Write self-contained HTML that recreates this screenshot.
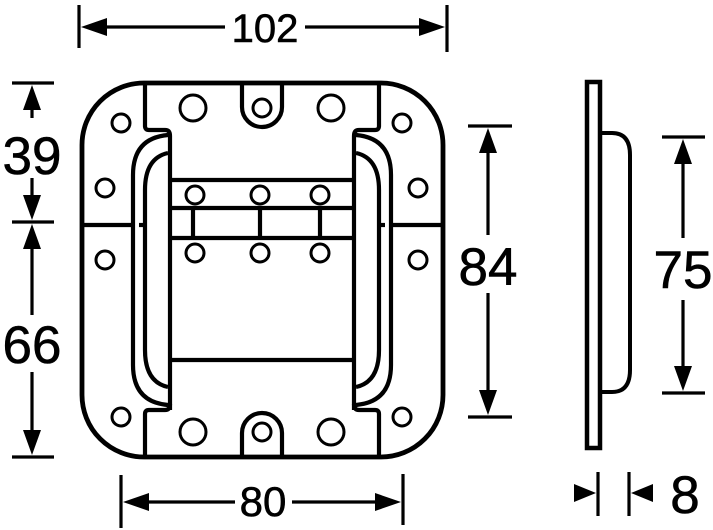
<!DOCTYPE html>
<html><head><meta charset="utf-8"><style>
html,body{margin:0;padding:0;background:#fff;width:713px;height:530px;overflow:hidden}
svg{display:block}
text{font-family:"Liberation Sans",Arial,sans-serif;fill:#000;stroke:#000;stroke-width:0.6}
</style></head><body>
<svg width="713" height="530" viewBox="0 0 713 530" xmlns="http://www.w3.org/2000/svg">
<g fill="none" stroke="#000" stroke-width="4.2" stroke-linejoin="round">
  <rect x="82" y="83" width="361" height="374" rx="62" ry="62" stroke-width="4.8"/>
  <path d="M145 83 V126 Q145 130 149 130 H165 Q170 130 170 136 V410"/>
  <path d="M379 83 V126 Q379 130 375 130 H359 Q354 130 354 136 V410"/>
  <path d="M145 457 V414 Q145 410 149 410 H165 Q170 410 170 404"/>
  <path d="M379 457 V414 Q379 410 375 410 H359 Q354 410 354 404"/>
  <line x1="170" y1="180" x2="354" y2="180"/>
  <line x1="170" y1="360" x2="354" y2="360"/>
  <line x1="170" y1="208" x2="354" y2="208"/>
  <line x1="170" y1="238" x2="354" y2="238"/>
  <line x1="193" y1="208" x2="193" y2="238"/>
  <line x1="260" y1="208" x2="260" y2="238"/>
  <line x1="320" y1="208" x2="320" y2="238"/>
  <path d="M242 83 V107 A20 20 0 0 0 282 107 V83"/>
  <path d="M242 457 V433 A20 20 0 0 1 282 433 V457"/>
  <path d="M168 135 Q133 138 133 175 V365 Q133 402 168 405"/>
  <path d="M168 153 Q145 158 145 190 V350 Q145 382 168 387"/>
  <path d="M356 135 Q391 138 391 175 V365 Q391 402 356 405"/>
  <path d="M356 153 Q379 158 379 190 V350 Q379 382 356 387"/>
  <line x1="82" y1="225" x2="133" y2="225"/>
  <line x1="139" y1="225" x2="145" y2="225"/>
  <line x1="391" y1="225" x2="443" y2="225"/>
  <line x1="379" y1="225" x2="385" y2="225"/>
</g>
<g fill="none" stroke="#000" stroke-width="3">
  <circle cx="193" cy="108" r="13"/><circle cx="331" cy="108" r="13"/>
  <circle cx="193" cy="432" r="13"/><circle cx="331" cy="432" r="13"/>
  <circle cx="262" cy="108" r="9"/><circle cx="262" cy="432" r="9"/>
  <circle cx="121" cy="123" r="9"/><circle cx="402" cy="123" r="9"/>
  <circle cx="121" cy="417" r="9"/><circle cx="402" cy="417" r="9"/>
  <circle cx="105" cy="188" r="9"/><circle cx="418" cy="188" r="9"/>
  <circle cx="105" cy="260" r="9"/><circle cx="418" cy="260" r="9"/>
  <circle cx="195" cy="195" r="9"/><circle cx="260" cy="195" r="9"/><circle cx="320" cy="195" r="9"/>
  <circle cx="195" cy="253" r="9"/><circle cx="260" cy="253" r="9"/><circle cx="320" cy="253" r="9"/>
</g>
<g fill="none" stroke="#000" stroke-width="4.5">
  <rect x="587" y="82" width="13" height="366"/>
  <path d="M602 133 H612 Q630 133 630 155 V370 Q630 392 612 392 H602" stroke-width="4"/>
</g>
<g stroke="#000" stroke-width="3.2">
  <line x1="79" y1="5" x2="79" y2="48"/><line x1="447" y1="5" x2="447" y2="52"/>
  <line x1="95" y1="27" x2="225" y2="27"/><line x1="305" y1="27" x2="432" y2="27"/>
  <line x1="12" y1="83" x2="54" y2="83"/><line x1="12" y1="222" x2="54" y2="222"/><line x1="12" y1="457" x2="54" y2="457"/>
  <line x1="32" y1="98" x2="32" y2="118"/><line x1="32" y1="178" x2="32" y2="205"/>
  <line x1="32" y1="240" x2="32" y2="315"/><line x1="32" y1="372" x2="32" y2="440"/>
  <line x1="468" y1="126" x2="512" y2="126"/><line x1="468" y1="417" x2="512" y2="417"/>
  <line x1="488" y1="140" x2="488" y2="235"/><line x1="488" y1="293" x2="488" y2="403"/>
  <line x1="662" y1="137" x2="705" y2="137"/><line x1="662" y1="393" x2="705" y2="393"/>
  <line x1="683" y1="150" x2="683" y2="238"/><line x1="683" y1="300" x2="683" y2="380"/>
  <line x1="121" y1="475" x2="121" y2="528"/><line x1="403" y1="474" x2="403" y2="525"/>
  <line x1="135" y1="502" x2="235" y2="502"/><line x1="292" y1="502" x2="390" y2="502"/>
  <line x1="598" y1="472" x2="598" y2="516"/><line x1="629" y1="472" x2="629" y2="516"/>
</g>
<g fill="#000">
  <polygon points="81,27 107,18 107,36"/><polygon points="445,27 419,18 419,36"/>
  <polygon points="32,85 23,110 41,110"/><polygon points="32,220 23,195 41,195"/>
  <polygon points="32,224 23,249 41,249"/><polygon points="32,455 23,430 41,430"/>
  <polygon points="488,128 479,153 497,153"/><polygon points="488,415 479,390 497,390"/>
  <polygon points="683,139 674,164 692,164"/><polygon points="683,391 674,366 692,366"/>
  <polygon points="123,502 149,493 149,511"/><polygon points="401,502 375,493 375,511"/>
  <polygon points="596,493 574,484 574,502"/><polygon points="631,493 653,484 653,502"/>
</g>
<g font-size="40" text-anchor="middle">
  <text x="265" y="42">102</text>
  <text x="263" y="516" font-size="42">80</text>
</g>
<g font-size="53" text-anchor="middle">
  <text x="32" y="174">39</text>
  <text x="32" y="363">66</text>
  <text x="488" y="285">84</text>
  <text x="683" y="288">75</text>
  <text x="685" y="513">8</text>
</g>
</svg>
</body></html>
